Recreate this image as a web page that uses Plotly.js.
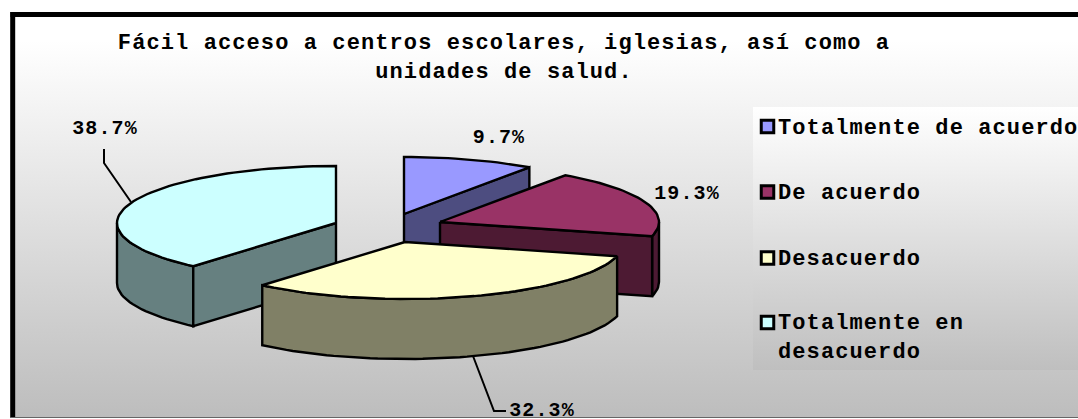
<!DOCTYPE html>
<html>
<head>
<meta charset="utf-8">
<script src="https://cdn.plot.ly/plotly-3.0.1.min.js"></script>
<style>
html,body{margin:0;padding:0;background:#fff;overflow:hidden}
#bg{position:absolute;left:15px;top:17px;width:1063px;height:400px;background:linear-gradient(#ffffff 0%,#ffffff 6%,#bdbdbd 100%)}
#lg{position:absolute;left:753px;top:107px;width:325px;height:263px;background:linear-gradient(#ffffff,#bfbfbf)}
#chart{position:absolute;left:0;top:0;width:1078px;height:419px}
#chart text{letter-spacing:1.1px}
</style>
</head>
<body>
<div id="bg"></div><div id="lg"></div><div id="chart"></div>
<script>
// ---- data ----
const categories = ['Totalmente de acuerdo', 'De acuerdo', 'Desacuerdo', 'Totalmente en<br>desacuerdo'];
const values = [9.7, 19.3, 32.3, 38.7];
const chartTitle = 'Fácil acceso a centros escolares, iglesias, así como a<br>unidades de salud.';

// ---- styling / layout constants ----
const topColors = ['#9999FF', '#993366', '#FFFFCC', '#CCFFFF'];
const sideColors = ['#4D4D80', '#4D1A33', '#808066', '#668080'];
const apexX = [404, 440, 405, 336];
const apexY = [214, 222, 242, 223];
const rx = 219, ry = 57, depth = 60;
const labelX = [499, 687, 542, 105];
const labelY = [137, 193, 410, 128];
const swatchX = 767.5;
const swatchY = [126.5, 192, 258, 322.5];
const legendTextX = 778;
const legendTextY = [128, 193, 259, 338];
const leaders = ['M104,149 L104,163 L131,202', 'M473,356 L494,411 L506,411'];

// ---- pie geometry is derived from the values ----
const total = values.reduce((a, b) => a + b, 0);
const starts = [], ends = [];
values.reduce((acc, v, i) => { starts[i] = acc / total * 360; ends[i] = (acc + v) / total * 360; return acc + v; }, 0);
const rad = d => d * Math.PI / 180;
const rimPt = (i, d, dz) => [apexX[i] + rx * Math.sin(rad(d)), apexY[i] - ry * Math.cos(rad(d)) + dz];
function arc(i, a, b, dz) {
  const n = Math.max(2, Math.ceil(Math.abs(b - a) / 2)), pts = [];
  for (let k = 0; k <= n; k++) pts.push(rimPt(i, a + (b - a) * k / n, dz));
  return pts;
}
function poly(pts, color, name) {
  const closed = pts.concat([pts[0]]);
  return { type: 'scatter', mode: 'lines', x: closed.map(p => p[0]), y: closed.map(p => p[1]),
    fill: 'toself', fillcolor: color, line: { color: '#000', width: 2.4 }, name: name, hoverinfo: 'name', showlegend: false };
}
const apex = (i, dz) => [apexX[i], apexY[i] + dz];
const cutFace = (i, d, col) => poly([apex(i, 0), rimPt(i, d, 0), rimPt(i, d, depth), apex(i, depth)], col, categories[i]);
const outerWall = (i, a, b, col) => poly(arc(i, a, b, 0).concat(arc(i, b, a, depth)), col, categories[i]);
const topFace = i => poly([apex(i, 0)].concat(arc(i, starts[i], ends[i], 0)), topColors[i], categories[i]);

const traces = [
  cutFace(0, ends[0], sideColors[0]), topFace(0),
  outerWall(3, starts[3], 270, sideColors[3]), cutFace(3, starts[3], sideColors[3]), topFace(3),
  outerWall(1, 90, ends[1], sideColors[1]), cutFace(1, ends[1], sideColors[1]), topFace(1),
  outerWall(2, starts[2], ends[2], sideColors[2]), topFace(2),
  { type: 'scatter', mode: 'markers', x: swatchY.map(() => swatchX), y: swatchY, hoverinfo: 'skip', showlegend: false,
    marker: { symbol: 'square', size: 12.5, color: topColors, line: { color: '#000', width: 3 } } }
];

const font = { family: '"Liberation Mono", monospace', color: '#000', weight: 700 };
const annotations = [];
values.forEach((v, i) => annotations.push({ x: labelX[i], y: labelY[i], text: '<b>' + v.toFixed(1) + '%</b>', showarrow: false,
  xanchor: 'center', yanchor: 'middle', font: Object.assign({}, font, { size: 20 }) }));
categories.forEach((c, i) => annotations.push({ x: legendTextX, y: legendTextY[i], text: '<b>' + c + '</b>', showarrow: false,
  xanchor: 'left', yanchor: 'middle', align: 'left', xshift: -2, font: Object.assign({}, font, { size: 22 }) }));

const shapes = [
  { type: 'line', x0: 10.5, x1: 1078, y0: 14.5, y1: 14.5, line: { color: '#000', width: 5 } },
  { type: 'line', x0: 12.7, x1: 12.7, y0: 12, y1: 418, line: { color: '#000', width: 5 } },
  { type: 'line', x0: 10, x1: 1078, y0: 417.5, y1: 417.5, line: { color: '#666', width: 1 } }
].concat(leaders.map(p => ({ type: 'path', path: p, line: { color: '#000', width: 2 } })));

Plotly.newPlot('chart', traces, {
  width: 1078, height: 419,
  margin: { l: 0, r: 0, t: 0, b: 0 },
  paper_bgcolor: 'rgba(0,0,0,0)', plot_bgcolor: 'rgba(0,0,0,0)',
  title: { text: '<b>' + chartTitle + '</b>', x: 504 / 1078, xanchor: 'center', xref: 'paper', y: 1 - 49 / 419, yanchor: 'middle', yref: 'paper',
    font: Object.assign({}, font, { size: 22 }) },
  xaxis: { range: [0, 1078], visible: false, fixedrange: true },
  yaxis: { range: [419, 0], visible: false, fixedrange: true },
  showlegend: false, shapes: shapes, annotations: annotations
}, { displayModeBar: false, staticPlot: true });
</script>
</body>
</html>
